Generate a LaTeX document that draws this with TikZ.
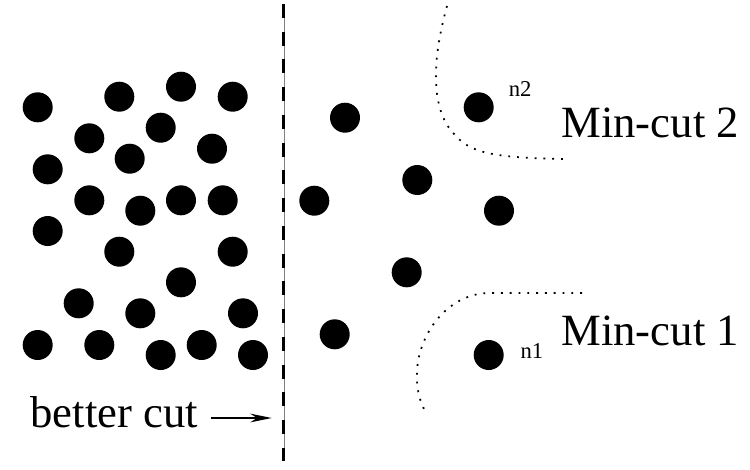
\documentclass[tikz,border=0pt]{standalone}
\usepackage{fontspec}
\setmainfont{Liberation Serif}
\usetikzlibrary{arrows.meta}
\tikzset{every picture/.style={line width=0.75pt}}
\tikzset{
  vertex/.style={circle,fill=black,draw=none,inner sep=0pt,minimum size=22.5pt},
  bigtext/.style={inner sep=0pt,anchor=base west,font=\fontsize{33.5}{36}\selectfont},
  smalltext/.style={inner sep=0pt,anchor=base west,font=\fontsize{17}{19}\selectfont},
  cutline/.style={line width=2.2pt,dash pattern=on 10.5pt off 10.3pt},
  mincut/.style={line width=1.3pt,dash pattern=on 1.4pt off 5.2pt}
}

\begin{document}
\begin{tikzpicture}[x=0.75pt,y=0.75pt,yscale=-1,xscale=1]
	\path[use as bounding box] (0,0) rectangle (750,469);
	
	%Shape: Circle (left block)
	\node[vertex] (a1) at (37.7,107.3) {};
	\node[vertex] (a2) at (119.3,96.7) {};
	\node[vertex] (a3) at (181,86.7) {};
	\node[vertex] (a4) at (232.7,96.7) {};
	\node[vertex] (a5) at (89.3,138.3) {};
	\node[vertex] (a6) at (160.7,127.7) {};
	\node[vertex] (a7) at (212,148.7) {};
	\node[vertex] (a8) at (47.7,169.3) {};
	\node[vertex] (a9) at (129.7,158.7) {};
	\node[vertex] (a10) at (89.3,200.3) {};
	\node[vertex] (a11) at (140.3,210.7) {};
	\node[vertex] (a12) at (181,200.3) {};
	\node[vertex] (a13) at (222.7,200.3) {};
	\node[vertex] (a14) at (47.7,231) {};
	\node[vertex] (a15) at (119.3,251.7) {};
	\node[vertex] (a16) at (232.7,251.7) {};
	\node[vertex] (a17) at (181,282.3) {};
	\node[vertex] (a18) at (78.7,303.3) {};
	\node[vertex] (a19) at (140.3,313.3) {};
	\node[vertex] (a20) at (243,313.3) {};
	\node[vertex] (a21) at (37.7,345) {};
	\node[vertex] (a22) at (99.3,345) {};
	\node[vertex] (a23) at (160.7,355) {};
	\node[vertex] (a24) at (201.7,345) {};
	\node[vertex] (a25) at (253,355) {};
	
	%Shape: Circle (right block)
	\node[vertex] (b1) at (345,117.7) {};
	\node[vertex] (b2) at (478.7,107.3) {};
	\node[vertex] (b3) at (417.3,180) {};
	\node[vertex] (b4) at (314.3,200.7) {};
	\node[vertex] (b5) at (499,210.7) {};
	\node[vertex] (b6) at (406.7,272.3) {};
	\node[vertex] (b7) at (334.7,334.3) {};
	\node[vertex] (b8) at (488.7,355) {};
	
	%Straight Lines (better cut)
	\coordinate (cuttop) at (283.7,4);
	\coordinate (cutbot) at (283.7,461);
	\draw[line width=0.3pt,gray] (cuttop) -- (cutbot);
	\draw[cutline] (cuttop) -- (cutbot);
	
	%Curve Lines (min cuts)
	\draw[mincut] (447,6) .. controls (432,60) and (430,110) .. (455,135) .. controls (470,152) and (490,158) .. (567,159);
	\draw[mincut] (582,293) -- (490,293) .. controls (450,293) and (420,330) .. (417,370) .. controls (416,395) and (422,405) .. (427,415);
	
	% Text Node
	\node[smalltext] (n2) at (508.3,96.7) {n2};
	% Text Node
	\node[smalltext] (n1) at (520,358.3) {n1};
	% Text Node
	\node[bigtext] (mc2) at (561,137.3) {Min-cut 2};
	% Text Node
	\node[bigtext] (mc1) at (561,345) {Min-cut 1};
	% Text Node
	\node[bigtext] (better) at (30,427) {better cut};
	
	\coordinate (tip) at (271.7,418);
	\draw[line width=1.1pt,-{Stealth[length=16pt,width=6.5pt,inset=5pt]}] (better.east |- tip) ++(13,0) -- (tip);
	
\end{tikzpicture}
\end{document}
